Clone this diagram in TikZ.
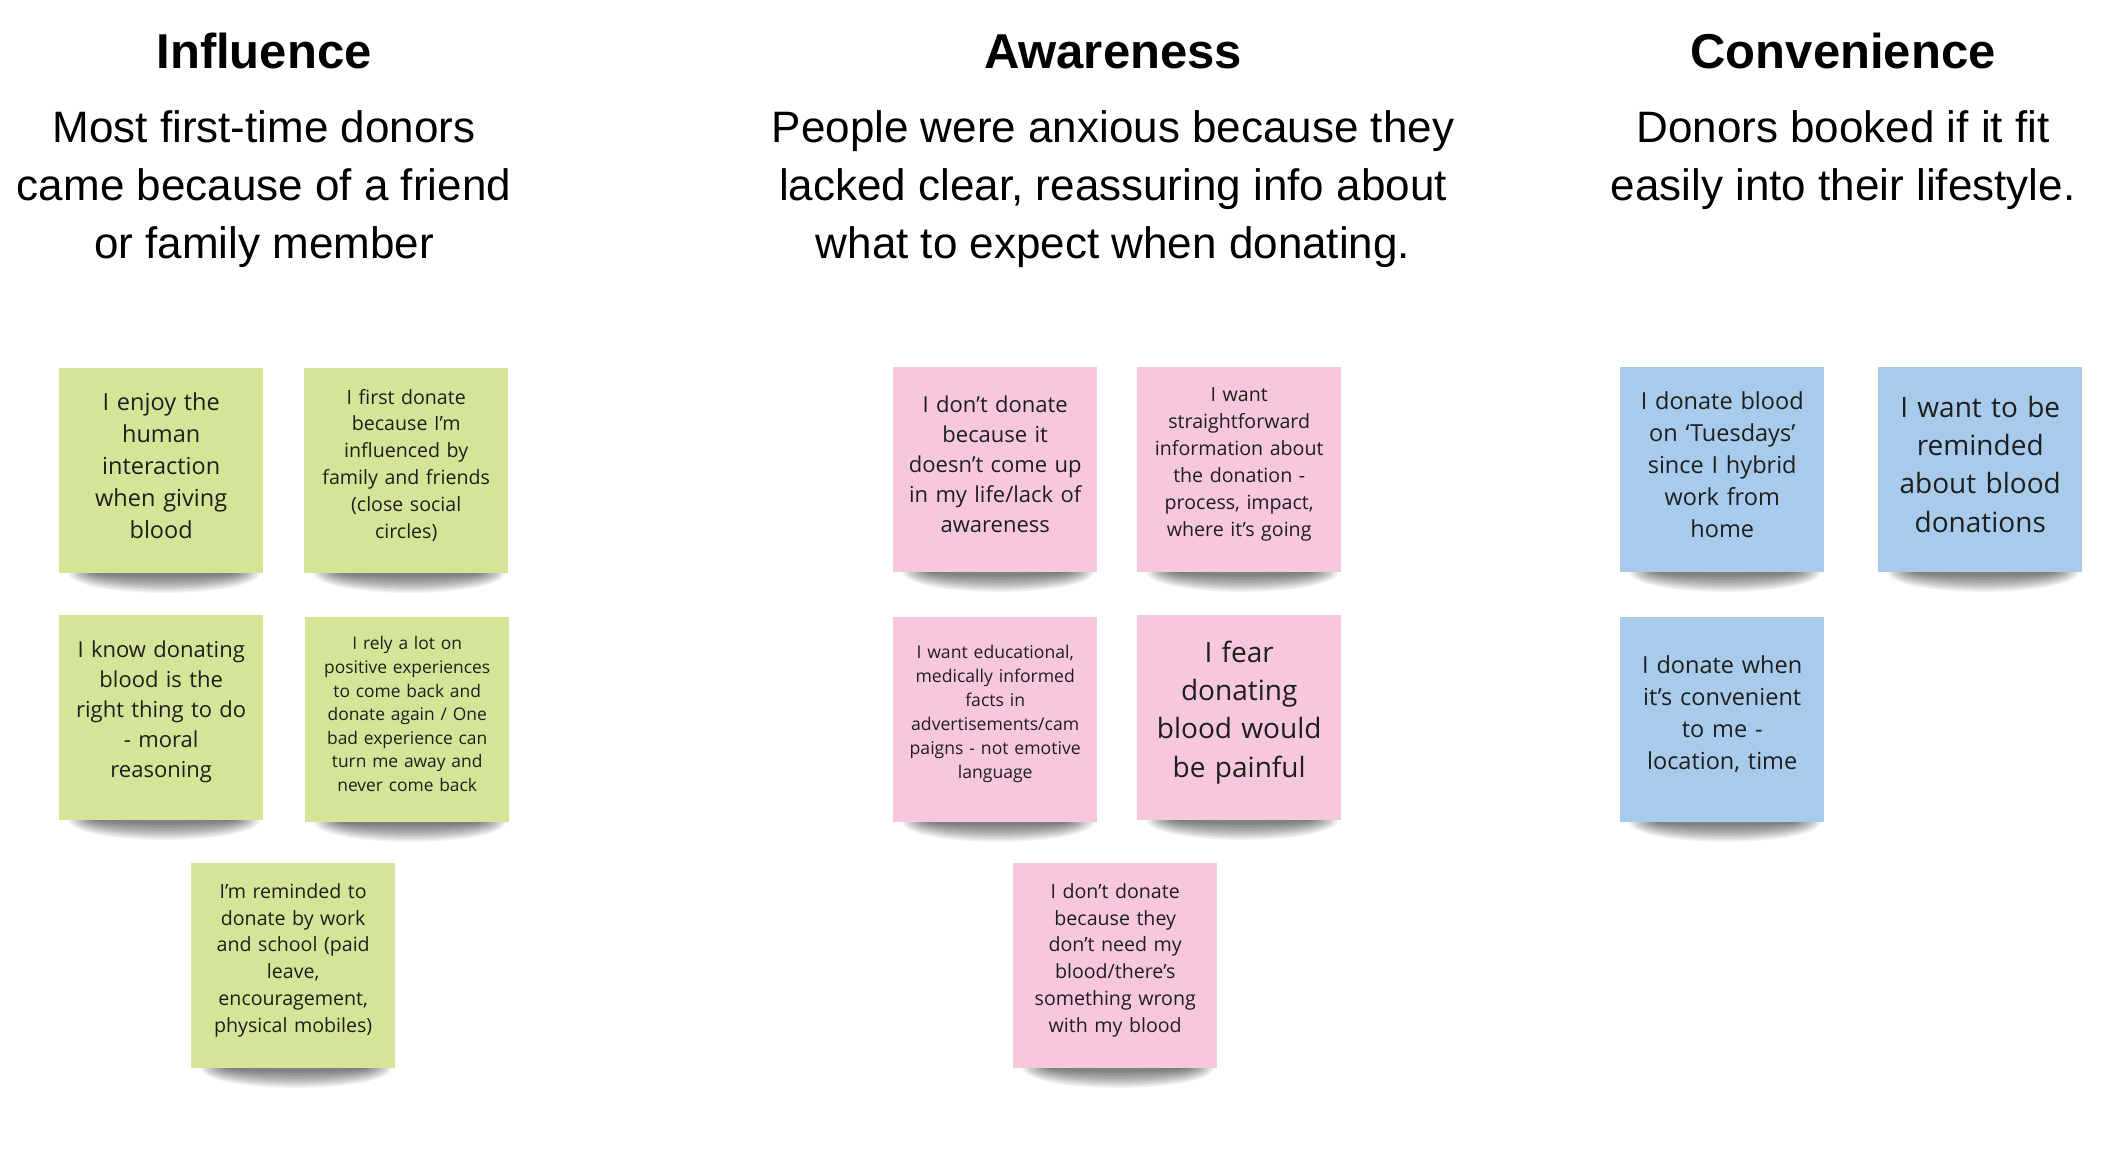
\documentclass[tikz,border=0pt]{standalone}
\usepackage{fontspec}
\setmainfont{Open Sans}
\newfontfamily\headfont{Liberation Sans}
\usetikzlibrary{backgrounds}

\definecolor{notegreen}{RGB}{213,229,152}
\definecolor{notepink}{RGB}{247,200,220}
\definecolor{noteblue}{RGB}{169,203,235}
\definecolor{notetext}{RGB}{30,30,30}

\tikzset{
    sticky/.style={anchor=north west, minimum width=204pt, minimum height=205pt,
        inner sep=0pt, text width=200pt, align=center, text=notetext,
        execute at end node={\par\vspace{11pt}}},
    green sticky/.style={sticky, fill=notegreen},
    pink sticky/.style={sticky, fill=notepink},
    blue sticky/.style={sticky, fill=noteblue},
    theme/.style={anchor=base, font=\headfont\bfseries\fontsize{49}{58}\selectfont},
    finding/.style={anchor=north, align=center, inner sep=0pt,
        font=\headfont\fontsize{44}{58}\selectfont}
}

\begin{document}
\begin{tikzpicture}[x=1pt, y=-1pt]
    \useasboundingbox (0,0) rectangle (2103,1164);

    % Column headings
    \node[theme] (influence) at (264,68) {Influence};
    \node[theme] (awareness) at (1113,68) {Awareness};
    \node[theme] (convenience) at (1843,68) {Convenience};

    % Findings under the headings
    \node[finding] (influencetext) at (264,110)
        {Most first-time donors\\came because of a friend\\or family member};
    \node[finding] (awarenesstext) at (1113,110)
        {People were anxious because they\\lacked clear, reassuring info about\\what to expect when donating.};
    \node[finding] (conveniencetext) at (1843,110)
        {Donors booked if it fit\\easily into their lifestyle.};

    % Influence notes
    \node[green sticky, font=\fontsize{23.5}{32}\selectfont] (enjoy) at (59,368)
        {I enjoy the\\human\\interaction\\when giving\\blood};
    \node[green sticky, font=\fontsize{19.6}{26.8}\selectfont] (firstdonate) at (304,368)
        {I first donate\\because I’m\\influenced by\\family and friends\\(close social\\circles)};
    \node[green sticky, font=\fontsize{22}{30}\selectfont] (rightthing) at (59,615)
        {I know donating\\blood is the\\right thing to do\\- moral\\reasoning};
    \node[green sticky, font=\fontsize{17.4}{23.6}\selectfont] (relyon) at (305,617)
        {I rely a lot on\\positive experiences\\to come back and\\donate again / One\\bad experience can\\turn me away and\\never come back};
    \node[green sticky, font=\fontsize{19.6}{26.8}\selectfont] (reminded) at (191,863)
        {I’m reminded to\\donate by work\\and school (paid\\leave,\\encouragement,\\physical mobiles)};

    % Awareness notes
    \node[pink sticky, font=\fontsize{22}{30}\selectfont] (comeup) at (893,367)
        {I don’t donate\\because it\\doesn’t come up\\in my life/lack of\\awareness};
    \node[pink sticky, font=\fontsize{19.6}{27}\selectfont] (straight) at (1137,367)
        {I want\\straightforward\\information about\\the donation -\\process, impact,\\where it’s going};
    \node[pink sticky, font=\fontsize{17.6}{24}\selectfont] (educational) at (893,617)
        {I want educational,\\medically informed\\facts in\\advertisements/cam\\paigns - not emotive\\language};
    \node[pink sticky, font=\fontsize{28}{38.3}\selectfont] (painful) at (1137,615)
        {I fear\\donating\\blood would\\be painful};
    \node[pink sticky, font=\fontsize{19.6}{26.8}\selectfont] (noneed) at (1013,863)
        {I don’t donate\\because they\\don’t need my\\blood/there’s\\something wrong\\with my blood};

    % Convenience notes
    \node[blue sticky, font=\fontsize{23.5}{32}\selectfont] (tuesdays) at (1620,367)
        {I donate blood\\on ‘Tuesdays’\\since I hybrid\\work from\\home};
    \node[blue sticky, font=\fontsize{28}{38.3}\selectfont] (remindme) at (1878,367)
        {I want to be\\reminded\\about blood\\donations};
    \node[blue sticky, font=\fontsize{23.5}{32}\selectfont] (whenconv) at (1620,617)
        {I donate when\\it’s convenient\\to me -\\location, time};

    % Soft shadows under every note
    \begin{scope}[on background layer]
        \foreach \n in {enjoy,firstdonate,rightthing,relyon,reminded,
                        comeup,straight,educational,painful,noneed,
                        tuesdays,remindme,whenconv} {
            \foreach \i in {1,...,12} {
                \fill[black, opacity=0.055] ([xshift=3pt]\n.south)
                    ellipse [x radius={98pt-2.4pt*\i}, y radius={21pt-1.5pt*\i}];
            }
        }
    \end{scope}
\end{tikzpicture}
\end{document}
